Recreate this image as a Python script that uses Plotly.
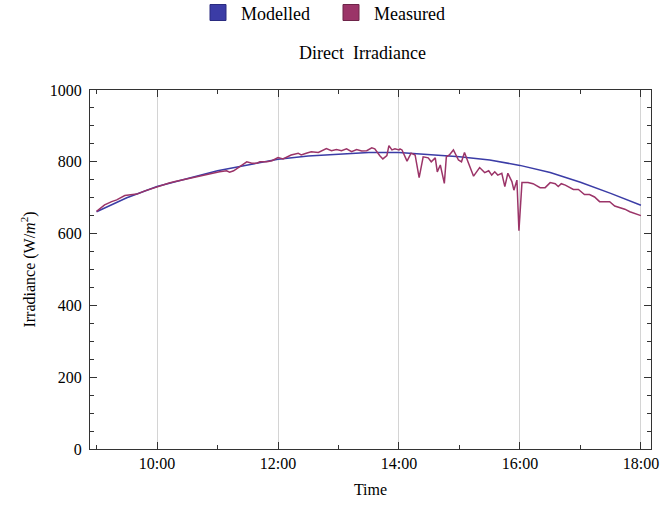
import plotly.graph_objects as go

DAY = "2024-06-21 "

# Modelled direct irradiance (W/m^2), half-hourly from 09:00 to 18:00
modelled_times = ["09:00", "09:30", "10:00", "10:30", "11:00", "11:30", "12:00",
                  "12:30", "13:00", "13:30", "14:00", "14:30", "15:00", "15:30",
                  "16:00", "16:30", "17:00", "17:30", "18:00"]
modelled_values = [661, 700, 731, 752, 775, 791, 807, 816, 822, 826, 826, 821,
                   814, 805, 790, 770, 743, 712, 679]

# Measured direct irradiance (W/m^2)
measured_times = [
    "09:00", "09:05", "09:08", "09:15", "09:20", "09:28", "09:35", "09:40", "09:48", "09:55",
    "10:00", "10:05", "10:12", "10:18", "10:28", "10:38", "10:48", "10:53",
    "11:02", "11:09", "11:12", "11:16", "11:22", "11:29", "11:34", "11:39", "11:42", "11:49", "11:54",
    "12:00", "12:05", "12:13", "12:20", "12:23", "12:28", "12:33", "12:40", "12:48", "12:53", "12:58",
    "13:03", "13:08", "13:13", "13:18", "13:23", "13:28", "13:33", "13:36", "13:41", "13:44", "13:48",
    "13:50", "13:53", "13:56",
    "14:00", "14:01", "14:03", "14:08", "14:12", "14:16", "14:20", "14:24", "14:29", "14:32", "14:36",
    "14:38", "14:41", "14:45", "14:47", "14:50", "14:54", "14:59",
    "15:02", "15:05", "15:09", "15:14", "15:20", "15:25", "15:29", "15:32", "15:35", "15:38", "15:42",
    "15:45", "15:48", "15:52", "15:54", "15:57", "15:59",
    "16:02", "16:08", "16:13", "16:20", "16:25", "16:30", "16:35", "16:38", "16:41", "16:45", "16:50",
    "16:53", "16:58",
    "17:04", "17:09", "17:14", "17:19", "17:24", "17:29", "17:34", "17:39", "17:44", "17:49", "17:54",
    "18:00",
]
measured_values = [
    662, 672, 680, 689, 694, 706, 709, 710, 719, 726,
    731, 736, 741, 745, 751, 757, 763, 768,
    772, 775, 771, 775, 786, 800, 796, 796, 800, 800, 803,
    812, 808, 819, 824, 819, 824, 828, 826, 837, 831, 834,
    831, 836, 828, 834, 830, 831, 839, 836, 817, 808, 817,
    845, 833, 836,
    833, 836, 833, 802, 824, 819, 756, 814, 811, 800, 811,
    772, 791, 740, 814, 819, 833, 805,
    800, 826, 796, 760, 784, 770, 775, 763, 772, 763, 768,
    731, 768, 745, 721, 749, 608,
    742, 742, 739, 728, 728, 742, 739, 731, 739, 735, 728,
    723, 723,
    709, 709, 702, 689, 689, 689, 677, 673, 668, 661, 656,
    650,
]

series_names = ["Modelled", "Measured"]

BLUE = "#3b3ca6"
PURPLE = "#9b3468"
EDGES = ["#2a2b80", "#6e2449"]
FONT = "Liberation Serif"

W, H = 660, 506
M_L, M_R, M_T, M_B = 90, 9, 90, 57
PLOT_W = W - M_L - M_R
PLOT_H = H - M_T - M_B


def paper_x(px):
    return (px - M_L) / PLOT_W


def paper_y(py):
    return (H - M_B - py) / PLOT_H


fig = go.Figure()

fig.add_trace(go.Scatter(
    x=[DAY + t for t in modelled_times], y=modelled_values, name=series_names[0],
    mode="lines", line=dict(color=BLUE, width=1.5), showlegend=False,
))
fig.add_trace(go.Scatter(
    x=[DAY + t for t in measured_times], y=measured_values, name=series_names[1],
    mode="lines", line=dict(color=PURPLE, width=1.5), showlegend=False,
))

# Legend row above the title: square swatch followed by the series name
legend_row_y = 12.5
swatch = 16
swatch_left = [210, 343]
for name, col, edge, left in zip(series_names, [BLUE, PURPLE], EDGES, swatch_left):
    fig.add_shape(
        type="rect", xref="paper", yref="paper",
        x0=paper_x(left), x1=paper_x(left + swatch),
        y0=paper_y(legend_row_y + swatch / 2), y1=paper_y(legend_row_y - swatch / 2),
        fillcolor=col, line=dict(color=edge, width=1), layer="above",
    )
    fig.add_annotation(
        text=name, xref="paper", yref="paper",
        x=paper_x(left + swatch + 13), y=paper_y(legend_row_y + 1),
        xanchor="left", yanchor="middle", showarrow=False,
        font=dict(family=FONT, size=18, color="black"),
    )

fig.update_layout(
    width=W, height=H,
    margin=dict(l=M_L, r=M_R, t=M_T, b=M_B, autoexpand=False),
    paper_bgcolor="white", plot_bgcolor="white",
    font=dict(family=FONT, size=15, color="black"),
    showlegend=False,
    title=dict(
        text="Direct\u00a0\u00a0Irradiance", x=362.5 / W, xref="container",
        y=1 - 53 / H, yref="container", yanchor="middle", xanchor="center",
        font=dict(family=FONT, size=18, color="black"),
    ),
    xaxis=dict(
        type="date", automargin=False,
        range=[DAY + "08:53:30", DAY + "18:10:00"],
        tick0=DAY + "10:00", dtick=2 * 3600 * 1000, tickformat="%H:%M",
        ticks="inside", ticklen=7, tickcolor="#333333",
        showline=True, linecolor="#333333", linewidth=1, mirror="allticks",
        showgrid=True, gridcolor="#d4d4d4", gridwidth=1,
        minor=dict(ticks="inside", ticklen=4, dtick=3600 * 1000,
                   tick0=DAY + "09:00", tickcolor="#333333", showgrid=False),
        tickfont=dict(family=FONT, size=16),
        title=dict(text="Time", font=dict(family=FONT, size=16), standoff=12),
        zeroline=False,
    ),
    yaxis=dict(
        range=[0, 1000], tick0=0, dtick=200, automargin=False,
        ticks="inside", ticklen=7, tickcolor="#333333",
        showline=True, linecolor="#333333", linewidth=1, mirror="allticks",
        showgrid=False, zeroline=False,
        minor=dict(ticks="inside", ticklen=4, dtick=50, tickcolor="#333333", showgrid=False),
        tickfont=dict(family=FONT, size=16),
        ticklabelstandoff=4,
        title=dict(text="Irradiance (W/<i>m</i><sup>2</sup>)",
                   font=dict(family=FONT, size=16), standoff=10),
    ),
)

fig.write_html("out.html")
